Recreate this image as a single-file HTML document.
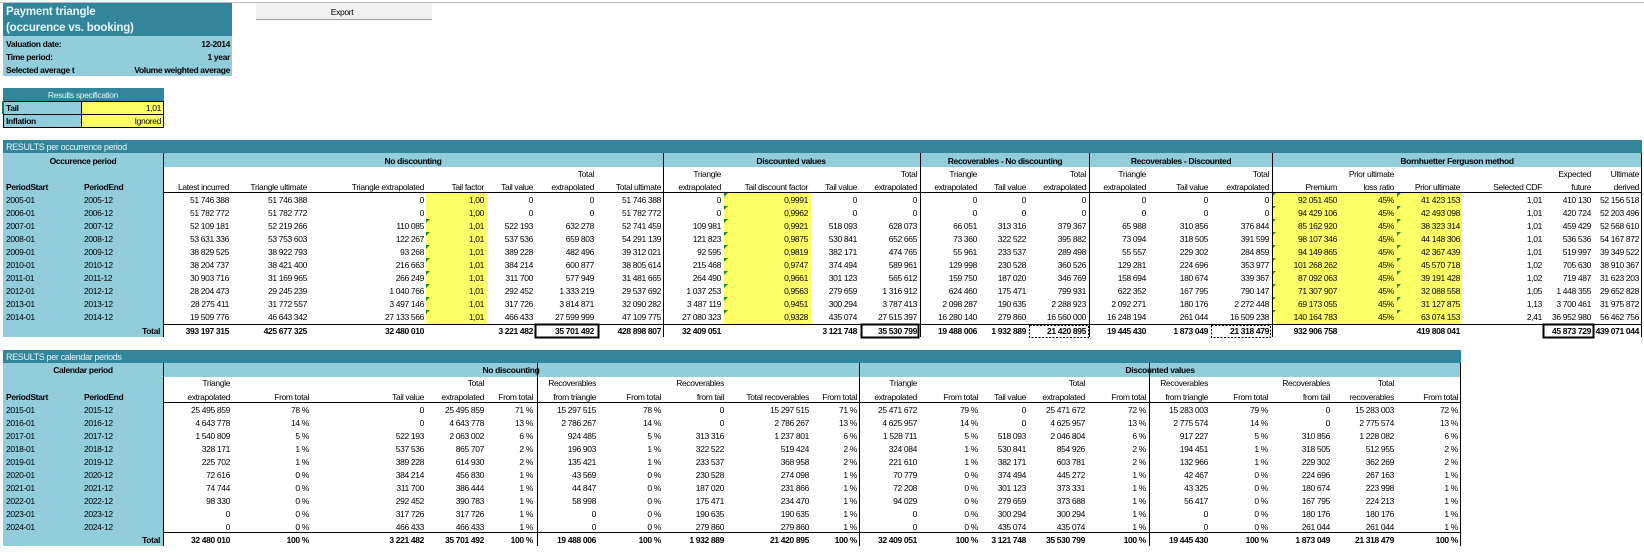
<!DOCTYPE html>
<html><head><meta charset="utf-8"><style>
html,body{margin:0;padding:0;background:#fff;width:1644px;height:553px;overflow:hidden}
svg text{font-family:"Liberation Sans",sans-serif;font-size:8.5px;letter-spacing:-0.35px;fill:#000}
.b{font-weight:bold}
.w{fill:#e8f4f8}
</style></head><body>
<svg width="1644" height="553" viewBox="0 0 1644 553" xmlns="http://www.w3.org/2000/svg">
<line x1="0" y1="2.5" x2="1644" y2="2.5" stroke="#bdbdbd"/>
<rect x="3" y="3" width="229" height="33" fill="#31869B"/>
<text x="6" y="15" class="b w" style="font-size:11.5px;letter-spacing:-0.2px">Payment triangle</text>
<text x="6" y="31" class="b w" style="font-size:11.5px;letter-spacing:-0.2px">(occurence vs. booking)</text>
<rect x="3" y="36" width="229" height="40" fill="#92CDDC"/>
<text x="6" y="47" class="b">Valuation date:</text><text x="230" y="47" class="b" text-anchor="end">12-2014</text>
<text x="6" y="60" class="b">Time period:</text><text x="230" y="60" class="b" text-anchor="end">1 year</text>
<text x="6" y="73" class="b">Selected average t</text><text x="230" y="73" class="b" text-anchor="end">Volume weighted average</text>
<rect x="256" y="3" width="176" height="16" fill="#f0f0f0"/>
<line x1="256" y1="19.5" x2="432" y2="19.5" stroke="#9a9a9a"/>
<text x="342" y="15" text-anchor="middle">Export</text>
<rect x="3" y="88" width="161" height="13" fill="#31869B"/>
<text x="83" y="98" class="w" text-anchor="middle">Results specification</text>
<rect x="3.5" y="101.5" width="78" height="13" fill="#92CDDC" stroke="#000"/>
<rect x="81.5" y="101.5" width="82" height="13" fill="#FFFF66" stroke="#000"/>
<rect x="3.5" y="114.5" width="78" height="13" fill="#92CDDC" stroke="#000"/>
<rect x="81.5" y="114.5" width="82" height="13" fill="#FFFF66" stroke="#000"/>
<line x1="3" y1="101" x2="3" y2="114" stroke="#217346" stroke-width="2"/>
<text x="6" y="111" class="b">Tail</text><text x="161" y="111" text-anchor="end">1,01</text>
<text x="6" y="124" class="b">Inflation</text><text x="161" y="124" text-anchor="end">Ignored</text>

<rect x="3" y="140" width="1639" height="13" fill="#31869B"/>
<text x="6" y="150" class="w" style="font-size:9px">RESULTS per occurrence period</text>
<rect x="3" y="153" width="160" height="184" fill="#92CDDC"/>
<rect x="163" y="153" width="1479" height="14" fill="#92CDDC"/>
<rect x="426" y="193" width="61" height="131" fill="#FFFF66"/>
<rect x="724" y="193" width="87" height="131" fill="#FFFF66"/>
<rect x="1272" y="193" width="190" height="131" fill="#FFFF66"/>
<g fill="#1f8a1f">
<polygon points="426,219 430,219 426,223"/><polygon points="426,232 430,232 426,236"/><polygon points="426,245 430,245 426,249"/><polygon points="426,258 430,258 426,262"/><polygon points="426,271 430,271 426,275"/><polygon points="426,284 430,284 426,288"/><polygon points="426,297 430,297 426,301"/><polygon points="426,310 430,310 426,314"/>
<polygon points="724,193 728,193 724,197"/><polygon points="724,206 728,206 724,210"/><polygon points="724,219 728,219 724,223"/><polygon points="724,232 728,232 724,236"/><polygon points="724,245 728,245 724,249"/><polygon points="724,258 728,258 724,262"/><polygon points="724,271 728,271 724,275"/><polygon points="724,284 728,284 724,288"/><polygon points="724,297 728,297 724,301"/><polygon points="724,310 728,310 724,314"/>
<polygon points="1272,193 1276,193 1272,197"/><polygon points="1272,206 1276,206 1272,210"/><polygon points="1272,219 1276,219 1272,223"/><polygon points="1272,232 1276,232 1272,236"/><polygon points="1272,245 1276,245 1272,249"/><polygon points="1272,258 1276,258 1272,262"/><polygon points="1272,271 1276,271 1272,275"/><polygon points="1272,284 1276,284 1272,288"/><polygon points="1272,297 1276,297 1272,301"/><polygon points="1272,310 1276,310 1272,314"/>
<polygon points="1397,193 1401,193 1397,197"/><polygon points="1397,206 1401,206 1397,210"/><polygon points="1397,219 1401,219 1397,223"/><polygon points="1397,232 1401,232 1397,236"/><polygon points="1397,245 1401,245 1397,249"/><polygon points="1397,258 1401,258 1397,262"/><polygon points="1397,271 1401,271 1397,275"/><polygon points="1397,284 1401,284 1397,288"/><polygon points="1397,297 1401,297 1397,301"/><polygon points="1397,310 1401,310 1397,314"/>
</g>
<g stroke="#000" stroke-width="1">
<line x1="163" y1="192.5" x2="1642" y2="192.5"/>
<line x1="163" y1="324.5" x2="1642" y2="324.5"/>
<line x1="163.5" y1="153" x2="163.5" y2="337"/>
<line x1="663.5" y1="153" x2="663.5" y2="337"/>
<line x1="920.5" y1="153" x2="920.5" y2="337"/>
<line x1="1089.5" y1="153" x2="1089.5" y2="337"/>
<line x1="1272.5" y1="153" x2="1272.5" y2="337"/>
<line x1="1641.5" y1="153" x2="1641.5" y2="337"/>
</g>
<g fill="none" stroke="#000">
<rect x="535.5" y="324.5" width="63" height="13" stroke-width="2"/>
<rect x="861.5" y="324.5" width="57" height="13" stroke-width="2"/>
<rect x="1543.5" y="324.5" width="50" height="13" stroke-width="2"/>
<rect x="1029.5" y="325.5" width="59" height="12" stroke-dasharray="2,1.5"/>
<rect x="1211.5" y="325.5" width="59" height="12" stroke-dasharray="2,1.5"/>
</g>
<text x="83" y="164" class="b" text-anchor="middle">Occurence period</text>
<text x="413" y="164" class="b" text-anchor="middle">No discounting</text>
<text x="791" y="164" class="b" text-anchor="middle">Discounted values</text>
<text x="1005" y="164" class="b" text-anchor="middle">Recoverables - No discounting</text>
<text x="1181" y="164" class="b" text-anchor="middle">Recoverables - Discounted</text>
<text x="1457" y="164" class="b" text-anchor="middle">Bornhuetter Ferguson method</text>
<text x="6" y="190" class="b">PeriodStart</text><text x="84" y="190" class="b">PeriodEnd</text>
<g text-anchor="end">
<text x="229" y="190">Latest incurred</text>
<text x="307" y="190">Triangle ultimate</text>
<text x="424" y="190">Triangle extrapolated</text>
<text x="484" y="190">Tail factor</text>
<text x="533" y="190">Tail value</text>
<text x="594" y="177">Total</text><text x="594" y="190">extrapolated</text>
<text x="661" y="190">Total ultimate</text>
<text x="721" y="177">Triangle</text><text x="721" y="190">extrapolated</text>
<text x="808" y="190">Tail discount factor</text>
<text x="857" y="190">Tail value</text>
<text x="917" y="177">Total</text><text x="917" y="190">extrapolated</text>
<text x="977" y="177">Triangle</text><text x="977" y="190">extrapolated</text>
<text x="1026" y="190">Tail value</text>
<text x="1086" y="177">Total</text><text x="1086" y="190">extrapolated</text>
<text x="1146" y="177">Triangle</text><text x="1146" y="190">extrapolated</text>
<text x="1208" y="190">Tail value</text>
<text x="1269" y="177">Total</text><text x="1269" y="190">extrapolated</text>
<text x="1337" y="190">Premium</text>
<text x="1394" y="177">Prior ultimate</text><text x="1394" y="190">loss ratio</text>
<text x="1460" y="190">Prior ultimate</text>
<text x="1542" y="190">Selected CDF</text>
<text x="1591" y="177">Expected</text><text x="1591" y="190">future</text>
<text x="1639" y="177">Ultimate</text><text x="1639" y="190">derived</text>
</g>
<text y="203"><tspan x="6">2005-01</tspan><tspan x="6" dy="13">2006-01</tspan><tspan x="6" dy="13">2007-01</tspan><tspan x="6" dy="13">2008-01</tspan><tspan x="6" dy="13">2009-01</tspan><tspan x="6" dy="13">2010-01</tspan><tspan x="6" dy="13">2011-01</tspan><tspan x="6" dy="13">2012-01</tspan><tspan x="6" dy="13">2013-01</tspan><tspan x="6" dy="13">2014-01</tspan></text>
<text y="203"><tspan x="84">2005-12</tspan><tspan x="84" dy="13">2006-12</tspan><tspan x="84" dy="13">2007-12</tspan><tspan x="84" dy="13">2008-12</tspan><tspan x="84" dy="13">2009-12</tspan><tspan x="84" dy="13">2010-12</tspan><tspan x="84" dy="13">2011-12</tspan><tspan x="84" dy="13">2012-12</tspan><tspan x="84" dy="13">2013-12</tspan><tspan x="84" dy="13">2014-12</tspan></text>
<g text-anchor="end">
<text y="203"><tspan x="229">51 746 388</tspan><tspan x="229" dy="13">51 782 772</tspan><tspan x="229" dy="13">52 109 181</tspan><tspan x="229" dy="13">53 631 336</tspan><tspan x="229" dy="13">38 829 525</tspan><tspan x="229" dy="13">38 204 737</tspan><tspan x="229" dy="13">30 903 716</tspan><tspan x="229" dy="13">28 204 473</tspan><tspan x="229" dy="13">28 275 411</tspan><tspan x="229" dy="13">19 509 776</tspan></text>
<text y="203"><tspan x="307">51 746 388</tspan><tspan x="307" dy="13">51 782 772</tspan><tspan x="307" dy="13">52 219 266</tspan><tspan x="307" dy="13">53 753 603</tspan><tspan x="307" dy="13">38 922 793</tspan><tspan x="307" dy="13">38 421 400</tspan><tspan x="307" dy="13">31 169 965</tspan><tspan x="307" dy="13">29 245 239</tspan><tspan x="307" dy="13">31 772 557</tspan><tspan x="307" dy="13">46 643 342</tspan></text>
<text y="203"><tspan x="424">0</tspan><tspan x="424" dy="13">0</tspan><tspan x="424" dy="13">110 085</tspan><tspan x="424" dy="13">122 267</tspan><tspan x="424" dy="13">93 268</tspan><tspan x="424" dy="13">216 663</tspan><tspan x="424" dy="13">266 249</tspan><tspan x="424" dy="13">1 040 766</tspan><tspan x="424" dy="13">3 497 146</tspan><tspan x="424" dy="13">27 133 566</tspan></text>
<text y="203"><tspan x="484">1,00</tspan><tspan x="484" dy="13">1,00</tspan><tspan x="484" dy="13">1,01</tspan><tspan x="484" dy="13">1,01</tspan><tspan x="484" dy="13">1,01</tspan><tspan x="484" dy="13">1,01</tspan><tspan x="484" dy="13">1,01</tspan><tspan x="484" dy="13">1,01</tspan><tspan x="484" dy="13">1,01</tspan><tspan x="484" dy="13">1,01</tspan></text>
<text y="203"><tspan x="533">0</tspan><tspan x="533" dy="13">0</tspan><tspan x="533" dy="13">522 193</tspan><tspan x="533" dy="13">537 536</tspan><tspan x="533" dy="13">389 228</tspan><tspan x="533" dy="13">384 214</tspan><tspan x="533" dy="13">311 700</tspan><tspan x="533" dy="13">292 452</tspan><tspan x="533" dy="13">317 726</tspan><tspan x="533" dy="13">466 433</tspan></text>
<text y="203"><tspan x="594">0</tspan><tspan x="594" dy="13">0</tspan><tspan x="594" dy="13">632 278</tspan><tspan x="594" dy="13">659 803</tspan><tspan x="594" dy="13">482 496</tspan><tspan x="594" dy="13">600 877</tspan><tspan x="594" dy="13">577 949</tspan><tspan x="594" dy="13">1 333 219</tspan><tspan x="594" dy="13">3 814 871</tspan><tspan x="594" dy="13">27 599 999</tspan></text>
<text y="203"><tspan x="661">51 746 388</tspan><tspan x="661" dy="13">51 782 772</tspan><tspan x="661" dy="13">52 741 459</tspan><tspan x="661" dy="13">54 291 139</tspan><tspan x="661" dy="13">39 312 021</tspan><tspan x="661" dy="13">38 805 614</tspan><tspan x="661" dy="13">31 481 665</tspan><tspan x="661" dy="13">29 537 692</tspan><tspan x="661" dy="13">32 090 282</tspan><tspan x="661" dy="13">47 109 775</tspan></text>
<text y="203"><tspan x="721">0</tspan><tspan x="721" dy="13">0</tspan><tspan x="721" dy="13">109 981</tspan><tspan x="721" dy="13">121 823</tspan><tspan x="721" dy="13">92 595</tspan><tspan x="721" dy="13">215 468</tspan><tspan x="721" dy="13">264 490</tspan><tspan x="721" dy="13">1 037 253</tspan><tspan x="721" dy="13">3 487 119</tspan><tspan x="721" dy="13">27 080 323</tspan></text>
<text y="203"><tspan x="808">0,9991</tspan><tspan x="808" dy="13">0,9962</tspan><tspan x="808" dy="13">0,9921</tspan><tspan x="808" dy="13">0,9875</tspan><tspan x="808" dy="13">0,9819</tspan><tspan x="808" dy="13">0,9747</tspan><tspan x="808" dy="13">0,9661</tspan><tspan x="808" dy="13">0,9563</tspan><tspan x="808" dy="13">0,9451</tspan><tspan x="808" dy="13">0,9328</tspan></text>
<text y="203"><tspan x="857">0</tspan><tspan x="857" dy="13">0</tspan><tspan x="857" dy="13">518 093</tspan><tspan x="857" dy="13">530 841</tspan><tspan x="857" dy="13">382 171</tspan><tspan x="857" dy="13">374 494</tspan><tspan x="857" dy="13">301 123</tspan><tspan x="857" dy="13">279 659</tspan><tspan x="857" dy="13">300 294</tspan><tspan x="857" dy="13">435 074</tspan></text>
<text y="203"><tspan x="917">0</tspan><tspan x="917" dy="13">0</tspan><tspan x="917" dy="13">628 073</tspan><tspan x="917" dy="13">652 665</tspan><tspan x="917" dy="13">474 765</tspan><tspan x="917" dy="13">589 961</tspan><tspan x="917" dy="13">565 612</tspan><tspan x="917" dy="13">1 316 912</tspan><tspan x="917" dy="13">3 787 413</tspan><tspan x="917" dy="13">27 515 397</tspan></text>
<text y="203"><tspan x="977">0</tspan><tspan x="977" dy="13">0</tspan><tspan x="977" dy="13">66 051</tspan><tspan x="977" dy="13">73 360</tspan><tspan x="977" dy="13">55 961</tspan><tspan x="977" dy="13">129 998</tspan><tspan x="977" dy="13">159 750</tspan><tspan x="977" dy="13">624 460</tspan><tspan x="977" dy="13">2 098 287</tspan><tspan x="977" dy="13">16 280 140</tspan></text>
<text y="203"><tspan x="1026">0</tspan><tspan x="1026" dy="13">0</tspan><tspan x="1026" dy="13">313 316</tspan><tspan x="1026" dy="13">322 522</tspan><tspan x="1026" dy="13">233 537</tspan><tspan x="1026" dy="13">230 528</tspan><tspan x="1026" dy="13">187 020</tspan><tspan x="1026" dy="13">175 471</tspan><tspan x="1026" dy="13">190 635</tspan><tspan x="1026" dy="13">279 860</tspan></text>
<text y="203"><tspan x="1086">0</tspan><tspan x="1086" dy="13">0</tspan><tspan x="1086" dy="13">379 367</tspan><tspan x="1086" dy="13">395 882</tspan><tspan x="1086" dy="13">289 498</tspan><tspan x="1086" dy="13">360 526</tspan><tspan x="1086" dy="13">346 769</tspan><tspan x="1086" dy="13">799 931</tspan><tspan x="1086" dy="13">2 288 923</tspan><tspan x="1086" dy="13">16 560 000</tspan></text>
<text y="203"><tspan x="1146">0</tspan><tspan x="1146" dy="13">0</tspan><tspan x="1146" dy="13">65 988</tspan><tspan x="1146" dy="13">73 094</tspan><tspan x="1146" dy="13">55 557</tspan><tspan x="1146" dy="13">129 281</tspan><tspan x="1146" dy="13">158 694</tspan><tspan x="1146" dy="13">622 352</tspan><tspan x="1146" dy="13">2 092 271</tspan><tspan x="1146" dy="13">16 248 194</tspan></text>
<text y="203"><tspan x="1208">0</tspan><tspan x="1208" dy="13">0</tspan><tspan x="1208" dy="13">310 856</tspan><tspan x="1208" dy="13">318 505</tspan><tspan x="1208" dy="13">229 302</tspan><tspan x="1208" dy="13">224 696</tspan><tspan x="1208" dy="13">180 674</tspan><tspan x="1208" dy="13">167 795</tspan><tspan x="1208" dy="13">180 176</tspan><tspan x="1208" dy="13">261 044</tspan></text>
<text y="203"><tspan x="1269">0</tspan><tspan x="1269" dy="13">0</tspan><tspan x="1269" dy="13">376 844</tspan><tspan x="1269" dy="13">391 599</tspan><tspan x="1269" dy="13">284 859</tspan><tspan x="1269" dy="13">353 977</tspan><tspan x="1269" dy="13">339 367</tspan><tspan x="1269" dy="13">790 147</tspan><tspan x="1269" dy="13">2 272 448</tspan><tspan x="1269" dy="13">16 509 238</tspan></text>
<text y="203"><tspan x="1337">92 051 450</tspan><tspan x="1337" dy="13">94 429 106</tspan><tspan x="1337" dy="13">85 162 920</tspan><tspan x="1337" dy="13">98 107 346</tspan><tspan x="1337" dy="13">94 149 865</tspan><tspan x="1337" dy="13">101 268 262</tspan><tspan x="1337" dy="13">87 092 063</tspan><tspan x="1337" dy="13">71 307 907</tspan><tspan x="1337" dy="13">69 173 055</tspan><tspan x="1337" dy="13">140 164 783</tspan></text>
<text y="203"><tspan x="1394">45%</tspan><tspan x="1394" dy="13">45%</tspan><tspan x="1394" dy="13">45%</tspan><tspan x="1394" dy="13">45%</tspan><tspan x="1394" dy="13">45%</tspan><tspan x="1394" dy="13">45%</tspan><tspan x="1394" dy="13">45%</tspan><tspan x="1394" dy="13">45%</tspan><tspan x="1394" dy="13">45%</tspan><tspan x="1394" dy="13">45%</tspan></text>
<text y="203"><tspan x="1460">41 423 153</tspan><tspan x="1460" dy="13">42 493 098</tspan><tspan x="1460" dy="13">38 323 314</tspan><tspan x="1460" dy="13">44 148 306</tspan><tspan x="1460" dy="13">42 367 439</tspan><tspan x="1460" dy="13">45 570 718</tspan><tspan x="1460" dy="13">39 191 428</tspan><tspan x="1460" dy="13">32 088 558</tspan><tspan x="1460" dy="13">31 127 875</tspan><tspan x="1460" dy="13">63 074 153</tspan></text>
<text y="203"><tspan x="1542">1,01</tspan><tspan x="1542" dy="13">1,01</tspan><tspan x="1542" dy="13">1,01</tspan><tspan x="1542" dy="13">1,01</tspan><tspan x="1542" dy="13">1,01</tspan><tspan x="1542" dy="13">1,02</tspan><tspan x="1542" dy="13">1,02</tspan><tspan x="1542" dy="13">1,05</tspan><tspan x="1542" dy="13">1,13</tspan><tspan x="1542" dy="13">2,41</tspan></text>
<text y="203"><tspan x="1591">410 130</tspan><tspan x="1591" dy="13">420 724</tspan><tspan x="1591" dy="13">459 429</tspan><tspan x="1591" dy="13">536 536</tspan><tspan x="1591" dy="13">519 997</tspan><tspan x="1591" dy="13">705 630</tspan><tspan x="1591" dy="13">719 487</tspan><tspan x="1591" dy="13">1 448 355</tspan><tspan x="1591" dy="13">3 700 461</tspan><tspan x="1591" dy="13">36 952 980</tspan></text>
<text y="203"><tspan x="1639">52 156 518</tspan><tspan x="1639" dy="13">52 203 496</tspan><tspan x="1639" dy="13">52 568 610</tspan><tspan x="1639" dy="13">54 167 872</tspan><tspan x="1639" dy="13">39 349 522</tspan><tspan x="1639" dy="13">38 910 367</tspan><tspan x="1639" dy="13">31 623 203</tspan><tspan x="1639" dy="13">29 652 828</tspan><tspan x="1639" dy="13">31 975 872</tspan><tspan x="1639" dy="13">56 462 756</tspan></text>
<g class="b">
<text x="160" y="334">Total</text>
<text x="229" y="334">393 197 315</text><text x="307" y="334">425 677 325</text><text x="424" y="334">32 480 010</text>
<text x="533" y="334">3 221 482</text><text x="594" y="334">35 701 492</text><text x="661" y="334">428 898 807</text>
<text x="721" y="334">32 409 051</text><text x="857" y="334">3 121 748</text><text x="917" y="334">35 530 799</text>
<text x="977" y="334">19 488 006</text><text x="1026" y="334">1 932 889</text><text x="1086" y="334">21 420 895</text>
<text x="1146" y="334">19 445 430</text><text x="1208" y="334">1 873 049</text><text x="1269" y="334">21 318 479</text>
<text x="1337" y="334">932 906 758</text><text x="1460" y="334">419 808 041</text><text x="1591" y="334">45 873 729</text><text x="1639" y="334">439 071 044</text>
</g>
</g>

<rect x="3" y="350" width="1458" height="13" fill="#31869B"/>
<text x="6" y="360" class="w" style="font-size:9px">RESULTS per calendar periods</text>
<rect x="3" y="363" width="160" height="183" fill="#92CDDC"/>
<rect x="163" y="363" width="1298" height="14" fill="#92CDDC"/>
<g stroke="#000" stroke-width="1">
<line x1="163" y1="402.5" x2="1461" y2="402.5"/>
<line x1="163" y1="532.5" x2="1461" y2="532.5"/>
<line x1="163.5" y1="363" x2="163.5" y2="546"/>
<line x1="537.5" y1="363" x2="537.5" y2="546"/>
<line x1="859.5" y1="363" x2="859.5" y2="546"/>
<line x1="1149.5" y1="363" x2="1149.5" y2="546"/>
<line x1="1460.5" y1="363" x2="1460.5" y2="546"/>
</g>
<text x="83" y="373" class="b" text-anchor="middle">Calendar period</text>
<text x="511" y="373" class="b" text-anchor="middle">No discounting</text>
<text x="1160" y="373" class="b" text-anchor="middle">Discounted values</text>
<text x="6" y="400" class="b">PeriodStart</text><text x="84" y="400" class="b">PeriodEnd</text>
<g text-anchor="end">
<text x="230" y="386">Triangle</text><text x="230" y="400">extrapolated</text>
<text x="309" y="400">From total</text>
<text x="424" y="400">Tail value</text>
<text x="484" y="386">Total</text><text x="484" y="400">extrapolated</text>
<text x="533" y="400">From total</text>
<text x="596" y="386">Recoverables</text><text x="596" y="400">from triangle</text>
<text x="661" y="400">From total</text>
<text x="724" y="386">Recoverables</text><text x="724" y="400">from tail</text>
<text x="809" y="400">Total recoverables</text>
<text x="857" y="400">From total</text>
<text x="917" y="386">Triangle</text><text x="917" y="400">extrapolated</text>
<text x="978" y="400">From total</text>
<text x="1026" y="400">Tail value</text>
<text x="1085" y="386">Total</text><text x="1085" y="400">extrapolated</text>
<text x="1146" y="400">From total</text>
<text x="1208" y="386">Recoverables</text><text x="1208" y="400">from triangle</text>
<text x="1268" y="400">From total</text>
<text x="1330" y="386">Recoverables</text><text x="1330" y="400">from tail</text>
<text x="1394" y="386">Total</text><text x="1394" y="400">recoverables</text>
<text x="1458" y="400">From total</text>
</g>
<text y="413"><tspan x="6">2015-01</tspan><tspan x="6" dy="13">2016-01</tspan><tspan x="6" dy="13">2017-01</tspan><tspan x="6" dy="13">2018-01</tspan><tspan x="6" dy="13">2019-01</tspan><tspan x="6" dy="13">2020-01</tspan><tspan x="6" dy="13">2021-01</tspan><tspan x="6" dy="13">2022-01</tspan><tspan x="6" dy="13">2023-01</tspan><tspan x="6" dy="13">2024-01</tspan></text>
<text y="413"><tspan x="84">2015-12</tspan><tspan x="84" dy="13">2016-12</tspan><tspan x="84" dy="13">2017-12</tspan><tspan x="84" dy="13">2018-12</tspan><tspan x="84" dy="13">2019-12</tspan><tspan x="84" dy="13">2020-12</tspan><tspan x="84" dy="13">2021-12</tspan><tspan x="84" dy="13">2022-12</tspan><tspan x="84" dy="13">2023-12</tspan><tspan x="84" dy="13">2024-12</tspan></text>
<g text-anchor="end">
<text y="413"><tspan x="230">25 495 859</tspan><tspan x="230" dy="13">4 643 778</tspan><tspan x="230" dy="13">1 540 809</tspan><tspan x="230" dy="13">328 171</tspan><tspan x="230" dy="13">225 702</tspan><tspan x="230" dy="13">72 616</tspan><tspan x="230" dy="13">74 744</tspan><tspan x="230" dy="13">98 330</tspan><tspan x="230" dy="13">0</tspan><tspan x="230" dy="13">0</tspan></text>
<text y="413"><tspan x="309">78 %</tspan><tspan x="309" dy="13">14 %</tspan><tspan x="309" dy="13">5 %</tspan><tspan x="309" dy="13">1 %</tspan><tspan x="309" dy="13">1 %</tspan><tspan x="309" dy="13">0 %</tspan><tspan x="309" dy="13">0 %</tspan><tspan x="309" dy="13">0 %</tspan><tspan x="309" dy="13">0 %</tspan><tspan x="309" dy="13">0 %</tspan></text>
<text y="413"><tspan x="424">0</tspan><tspan x="424" dy="13">0</tspan><tspan x="424" dy="13">522 193</tspan><tspan x="424" dy="13">537 536</tspan><tspan x="424" dy="13">389 228</tspan><tspan x="424" dy="13">384 214</tspan><tspan x="424" dy="13">311 700</tspan><tspan x="424" dy="13">292 452</tspan><tspan x="424" dy="13">317 726</tspan><tspan x="424" dy="13">466 433</tspan></text>
<text y="413"><tspan x="484">25 495 859</tspan><tspan x="484" dy="13">4 643 778</tspan><tspan x="484" dy="13">2 063 002</tspan><tspan x="484" dy="13">865 707</tspan><tspan x="484" dy="13">614 930</tspan><tspan x="484" dy="13">456 830</tspan><tspan x="484" dy="13">386 444</tspan><tspan x="484" dy="13">390 783</tspan><tspan x="484" dy="13">317 726</tspan><tspan x="484" dy="13">466 433</tspan></text>
<text y="413"><tspan x="533">71 %</tspan><tspan x="533" dy="13">13 %</tspan><tspan x="533" dy="13">6 %</tspan><tspan x="533" dy="13">2 %</tspan><tspan x="533" dy="13">2 %</tspan><tspan x="533" dy="13">1 %</tspan><tspan x="533" dy="13">1 %</tspan><tspan x="533" dy="13">1 %</tspan><tspan x="533" dy="13">1 %</tspan><tspan x="533" dy="13">1 %</tspan></text>
<text y="413"><tspan x="596">15 297 515</tspan><tspan x="596" dy="13">2 786 267</tspan><tspan x="596" dy="13">924 485</tspan><tspan x="596" dy="13">196 903</tspan><tspan x="596" dy="13">135 421</tspan><tspan x="596" dy="13">43 569</tspan><tspan x="596" dy="13">44 847</tspan><tspan x="596" dy="13">58 998</tspan><tspan x="596" dy="13">0</tspan><tspan x="596" dy="13">0</tspan></text>
<text y="413"><tspan x="661">78 %</tspan><tspan x="661" dy="13">14 %</tspan><tspan x="661" dy="13">5 %</tspan><tspan x="661" dy="13">1 %</tspan><tspan x="661" dy="13">1 %</tspan><tspan x="661" dy="13">0 %</tspan><tspan x="661" dy="13">0 %</tspan><tspan x="661" dy="13">0 %</tspan><tspan x="661" dy="13">0 %</tspan><tspan x="661" dy="13">0 %</tspan></text>
<text y="413"><tspan x="724">0</tspan><tspan x="724" dy="13">0</tspan><tspan x="724" dy="13">313 316</tspan><tspan x="724" dy="13">322 522</tspan><tspan x="724" dy="13">233 537</tspan><tspan x="724" dy="13">230 528</tspan><tspan x="724" dy="13">187 020</tspan><tspan x="724" dy="13">175 471</tspan><tspan x="724" dy="13">190 635</tspan><tspan x="724" dy="13">279 860</tspan></text>
<text y="413"><tspan x="809">15 297 515</tspan><tspan x="809" dy="13">2 786 267</tspan><tspan x="809" dy="13">1 237 801</tspan><tspan x="809" dy="13">519 424</tspan><tspan x="809" dy="13">368 958</tspan><tspan x="809" dy="13">274 098</tspan><tspan x="809" dy="13">231 866</tspan><tspan x="809" dy="13">234 470</tspan><tspan x="809" dy="13">190 635</tspan><tspan x="809" dy="13">279 860</tspan></text>
<text y="413"><tspan x="857">71 %</tspan><tspan x="857" dy="13">13 %</tspan><tspan x="857" dy="13">6 %</tspan><tspan x="857" dy="13">2 %</tspan><tspan x="857" dy="13">2 %</tspan><tspan x="857" dy="13">1 %</tspan><tspan x="857" dy="13">1 %</tspan><tspan x="857" dy="13">1 %</tspan><tspan x="857" dy="13">1 %</tspan><tspan x="857" dy="13">1 %</tspan></text>
<text y="413"><tspan x="917">25 471 672</tspan><tspan x="917" dy="13">4 625 957</tspan><tspan x="917" dy="13">1 528 711</tspan><tspan x="917" dy="13">324 084</tspan><tspan x="917" dy="13">221 610</tspan><tspan x="917" dy="13">70 779</tspan><tspan x="917" dy="13">72 208</tspan><tspan x="917" dy="13">94 029</tspan><tspan x="917" dy="13">0</tspan><tspan x="917" dy="13">0</tspan></text>
<text y="413"><tspan x="978">79 %</tspan><tspan x="978" dy="13">14 %</tspan><tspan x="978" dy="13">5 %</tspan><tspan x="978" dy="13">1 %</tspan><tspan x="978" dy="13">1 %</tspan><tspan x="978" dy="13">0 %</tspan><tspan x="978" dy="13">0 %</tspan><tspan x="978" dy="13">0 %</tspan><tspan x="978" dy="13">0 %</tspan><tspan x="978" dy="13">0 %</tspan></text>
<text y="413"><tspan x="1026">0</tspan><tspan x="1026" dy="13">0</tspan><tspan x="1026" dy="13">518 093</tspan><tspan x="1026" dy="13">530 841</tspan><tspan x="1026" dy="13">382 171</tspan><tspan x="1026" dy="13">374 494</tspan><tspan x="1026" dy="13">301 123</tspan><tspan x="1026" dy="13">279 659</tspan><tspan x="1026" dy="13">300 294</tspan><tspan x="1026" dy="13">435 074</tspan></text>
<text y="413"><tspan x="1085">25 471 672</tspan><tspan x="1085" dy="13">4 625 957</tspan><tspan x="1085" dy="13">2 046 804</tspan><tspan x="1085" dy="13">854 926</tspan><tspan x="1085" dy="13">603 781</tspan><tspan x="1085" dy="13">445 272</tspan><tspan x="1085" dy="13">373 331</tspan><tspan x="1085" dy="13">373 688</tspan><tspan x="1085" dy="13">300 294</tspan><tspan x="1085" dy="13">435 074</tspan></text>
<text y="413"><tspan x="1146">72 %</tspan><tspan x="1146" dy="13">13 %</tspan><tspan x="1146" dy="13">6 %</tspan><tspan x="1146" dy="13">2 %</tspan><tspan x="1146" dy="13">2 %</tspan><tspan x="1146" dy="13">1 %</tspan><tspan x="1146" dy="13">1 %</tspan><tspan x="1146" dy="13">1 %</tspan><tspan x="1146" dy="13">1 %</tspan><tspan x="1146" dy="13">1 %</tspan></text>
<text y="413"><tspan x="1208">15 283 003</tspan><tspan x="1208" dy="13">2 775 574</tspan><tspan x="1208" dy="13">917 227</tspan><tspan x="1208" dy="13">194 451</tspan><tspan x="1208" dy="13">132 966</tspan><tspan x="1208" dy="13">42 467</tspan><tspan x="1208" dy="13">43 325</tspan><tspan x="1208" dy="13">56 417</tspan><tspan x="1208" dy="13">0</tspan><tspan x="1208" dy="13">0</tspan></text>
<text y="413"><tspan x="1268">79 %</tspan><tspan x="1268" dy="13">14 %</tspan><tspan x="1268" dy="13">5 %</tspan><tspan x="1268" dy="13">1 %</tspan><tspan x="1268" dy="13">1 %</tspan><tspan x="1268" dy="13">0 %</tspan><tspan x="1268" dy="13">0 %</tspan><tspan x="1268" dy="13">0 %</tspan><tspan x="1268" dy="13">0 %</tspan><tspan x="1268" dy="13">0 %</tspan></text>
<text y="413"><tspan x="1330">0</tspan><tspan x="1330" dy="13">0</tspan><tspan x="1330" dy="13">310 856</tspan><tspan x="1330" dy="13">318 505</tspan><tspan x="1330" dy="13">229 302</tspan><tspan x="1330" dy="13">224 696</tspan><tspan x="1330" dy="13">180 674</tspan><tspan x="1330" dy="13">167 795</tspan><tspan x="1330" dy="13">180 176</tspan><tspan x="1330" dy="13">261 044</tspan></text>
<text y="413"><tspan x="1394">15 283 003</tspan><tspan x="1394" dy="13">2 775 574</tspan><tspan x="1394" dy="13">1 228 082</tspan><tspan x="1394" dy="13">512 955</tspan><tspan x="1394" dy="13">362 269</tspan><tspan x="1394" dy="13">267 163</tspan><tspan x="1394" dy="13">223 998</tspan><tspan x="1394" dy="13">224 213</tspan><tspan x="1394" dy="13">180 176</tspan><tspan x="1394" dy="13">261 044</tspan></text>
<text y="413"><tspan x="1458">72 %</tspan><tspan x="1458" dy="13">13 %</tspan><tspan x="1458" dy="13">6 %</tspan><tspan x="1458" dy="13">2 %</tspan><tspan x="1458" dy="13">2 %</tspan><tspan x="1458" dy="13">1 %</tspan><tspan x="1458" dy="13">1 %</tspan><tspan x="1458" dy="13">1 %</tspan><tspan x="1458" dy="13">1 %</tspan><tspan x="1458" dy="13">1 %</tspan></text>
<g class="b">
<text x="160" y="543">Total</text>
<text x="230" y="543">32 480 010</text><text x="309" y="543">100 %</text><text x="424" y="543">3 221 482</text>
<text x="484" y="543">35 701 492</text><text x="533" y="543">100 %</text><text x="596" y="543">19 488 006</text>
<text x="661" y="543">100 %</text><text x="724" y="543">1 932 889</text><text x="809" y="543">21 420 895</text>
<text x="857" y="543">100 %</text><text x="917" y="543">32 409 051</text><text x="978" y="543">100 %</text>
<text x="1026" y="543">3 121 748</text><text x="1085" y="543">35 530 799</text><text x="1146" y="543">100 %</text>
<text x="1208" y="543">19 445 430</text><text x="1268" y="543">100 %</text><text x="1330" y="543">1 873 049</text>
<text x="1394" y="543">21 318 479</text><text x="1458" y="543">100 %</text>
</g>
</g>
</svg>
</body></html>
